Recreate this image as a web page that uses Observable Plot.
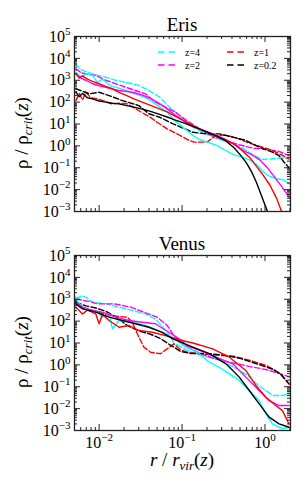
<!DOCTYPE html>
<html><head><meta charset="utf-8">
<script src="https://cdn.jsdelivr.net/npm/d3@7"></script>
<script src="https://cdn.jsdelivr.net/npm/@observablehq/plot@0.6"></script>
<style>
html,body{margin:0;padding:0;background:#fff;}
#wrap{position:relative;width:308px;height:488px;overflow:hidden;font-family:"Liberation Serif","DejaVu Serif",serif;}
#wrap > svg{position:absolute;left:0;}
#wrap svg text{font-family:"Liberation Serif","DejaVu Serif",serif !important;}
</style></head><body><div id="wrap"></div>
<script>
// ---------- data (log10 r/rvir, log10 rho/rho_crit) ----------
const redshifts = ["z=4", "z=2", "z=1", "z=0.2"];
const zColors = ["#00ffff", "#ff00ff", "#ff0000", "#000000"];
const panelNames = ["Eris", "Venus"];
const xTicks = [0.01, 0.1, 1];
const yTicks = [1e-3, 1e-2, 1e-1, 1, 1e1, 1e2, 1e3, 1e4, 1e5];

// Eris, solid
const erisSolidZ4 = [[-2.28,3.37],[-2.22,3.15],[-2.15,3.30],[-2.08,3.22],[-2.02,2.90],[-1.96,3.05],[-1.90,2.85],[-1.84,2.72],[-1.76,2.64],[-1.68,2.53],[-1.60,2.42],[-1.52,2.32],[-1.44,2.20],[-1.36,2.02],[-1.27,1.78],[-1.18,1.54],[-1.10,1.20],[-1.02,0.95],[-0.94,0.70],[-0.86,0.45],[-0.78,0.28],[-0.68,0.15],[-0.58,0.02],[-0.48,-0.20],[-0.38,-0.40],[-0.28,-0.50],[-0.18,-0.65],[-0.10,-0.85],[-0.02,-1.20],[0.06,-1.40],[0.14,-1.50],[0.22,-1.55],[0.30,-1.75]];
const erisSolidZ2 = [[-2.28,3.29],[-2.22,3.10],[-2.16,3.00],[-2.08,2.84],[-2.00,2.75],[-1.92,2.68],[-1.84,2.60],[-1.76,2.53],[-1.68,2.50],[-1.60,2.45],[-1.50,2.35],[-1.40,2.20],[-1.30,2.00],[-1.20,1.75],[-1.10,1.45],[-1.00,1.20],[-0.90,0.95],[-0.80,0.80],[-0.70,0.65],[-0.58,0.48],[-0.46,0.25],[-0.36,0.05],[-0.26,-0.22],[-0.16,-0.40],[-0.06,-0.65],[0.04,-1.05],[0.12,-1.45],[0.20,-1.85],[0.30,-2.40]];
const erisSolidZ1 = [[-2.28,3.29],[-2.24,3.10],[-2.20,3.20],[-2.14,3.05],[-2.08,2.95],[-2.00,2.84],[-1.92,2.72],[-1.84,2.61],[-1.76,2.45],[-1.68,2.32],[-1.58,2.15],[-1.48,2.00],[-1.38,1.85],[-1.28,1.70],[-1.18,1.55],[-1.08,1.35],[-0.98,1.15],[-0.88,0.95],[-0.78,0.75],[-0.68,0.60],[-0.58,0.45],[-0.48,0.30],[-0.38,0.10],[-0.28,-0.20],[-0.18,-0.55],[-0.10,-0.95],[-0.02,-1.35],[0.06,-1.80],[0.14,-2.40],[0.20,-3.00]];
const erisSolidZ02 = [[-2.28,2.45],[-2.24,2.25],[-2.20,2.40],[-2.14,2.20],[-2.08,2.15],[-2.00,2.05],[-1.92,2.00],[-1.84,1.95],[-1.76,1.92],[-1.68,1.85],[-1.58,1.77],[-1.48,1.68],[-1.38,1.58],[-1.28,1.45],[-1.18,1.32],[-1.08,1.18],[-0.98,1.05],[-0.88,0.90],[-0.78,0.75],[-0.68,0.60],[-0.58,0.45],[-0.48,0.25],[-0.38,-0.06],[-0.30,-0.40],[-0.22,-0.80],[-0.16,-1.20],[-0.10,-1.70],[-0.04,-2.30],[0.02,-2.90],[0.04,-3.10]];
// Eris, dashed
const erisDashZ4 = [[-2.28,3.75],[-2.24,3.55],[-2.20,3.45],[-2.12,3.35],[-2.04,3.25],[-1.92,3.14],[-1.80,3.00],[-1.68,2.91],[-1.52,2.76],[-1.40,2.53],[-1.27,2.23],[-1.15,1.77],[-1.03,1.39],[-0.96,1.16],[-0.87,0.85],[-0.75,0.62],[-0.63,0.40],[-0.51,0.25],[-0.39,0.10],[-0.27,-0.10],[-0.15,-0.40],[-0.03,-0.62],[0.09,-0.59],[0.21,-0.55],[0.29,-0.60]];
const erisDashZ2 = [[-2.28,3.52],[-2.22,3.35],[-2.16,3.29],[-2.04,3.22],[-1.92,3.00],[-1.80,2.84],[-1.68,2.68],[-1.56,2.53],[-1.44,2.38],[-1.32,2.00],[-1.20,1.77],[-1.08,1.54],[-0.96,1.20],[-0.86,0.95],[-0.75,0.70],[-0.63,0.45],[-0.45,0.20],[-0.31,0.05],[-0.15,-0.10],[0.01,-0.15],[0.17,-0.25],[0.29,-0.45]];
const erisDashZ1 = [[-2.28,2.07],[-2.24,2.40],[-2.20,2.10],[-2.16,2.45],[-2.10,2.20],[-2.02,2.15],[-1.94,2.05],[-1.85,1.92],[-1.75,1.95],[-1.66,1.92],[-1.56,1.70],[-1.46,1.47],[-1.38,1.30],[-1.30,1.08],[-1.18,0.78],[-1.02,0.47],[-0.94,0.30],[-0.86,0.17],[-0.70,0.17],[-0.60,0.45],[-0.50,0.50],[-0.37,0.40],[-0.17,0.10],[0.03,-0.13],[0.17,-0.35],[0.29,-0.60]];
const erisDashZ02 = [[-2.28,2.61],[-2.20,2.50],[-2.12,2.38],[-2.00,2.45],[-1.88,2.30],[-1.72,2.07],[-1.52,1.84],[-1.40,1.47],[-1.27,1.31],[-1.11,1.01],[-0.98,0.80],[-0.87,0.62],[-0.71,0.55],[-0.55,0.55],[-0.39,0.40],[-0.23,0.25],[-0.07,-0.06],[0.09,-0.29],[0.17,-0.45],[0.23,-0.75],[0.29,-1.00]];

// Venus, solid
const venusSolidZ4 = [[-2.28,3.10],[-2.24,2.79],[-2.16,2.56],[-2.04,2.49],[-1.96,2.18],[-1.88,2.33],[-1.84,1.65],[-1.76,2.03],[-1.60,1.95],[-1.44,1.80],[-1.28,1.57],[-1.12,1.27],[-0.95,0.81],[-0.79,0.51],[-0.67,0.12],[-0.55,-0.11],[-0.43,-0.41],[-0.31,-0.71],[-0.19,-1.17],[-0.07,-1.63],[0.01,-2.24],[0.09,-2.70],[0.21,-2.92],[0.29,-2.85]];
const venusSolidZ2 = [[-2.28,2.86],[-2.20,2.64],[-2.08,2.49],[-1.96,2.41],[-1.80,2.18],[-1.64,2.03],[-1.48,1.95],[-1.32,1.88],[-1.16,1.49],[-1.00,1.11],[-0.95,0.89],[-0.79,0.66],[-0.59,0.35],[-0.39,0.05],[-0.23,-0.56],[-0.07,-1.17],[0.05,-1.63],[0.17,-1.86],[0.29,-1.86]];
const venusSolidZ1 = [[-2.28,2.64],[-2.20,2.33],[-2.14,2.50],[-2.04,2.33],[-2.00,1.88],[-1.96,2.30],[-1.88,2.03],[-1.76,1.72],[-1.64,1.80],[-1.52,1.57],[-1.36,1.49],[-1.20,1.34],[-1.04,1.15],[-0.87,1.00],[-0.63,0.73],[-0.43,0.35],[-0.23,-0.26],[-0.11,-0.94],[0.01,-1.48],[0.13,-1.86],[0.21,-2.09],[0.29,-2.70]];
const venusSolidZ02 = [[-2.28,2.79],[-2.20,2.56],[-2.04,2.41],[-1.88,2.18],[-1.72,2.03],[-1.56,1.88],[-1.40,1.72],[-1.24,1.49],[-1.11,1.19],[-0.87,0.81],[-0.67,0.51],[-0.47,0.05],[-0.31,-0.56],[-0.19,-1.17],[-0.07,-1.78],[0.05,-2.39],[0.17,-2.70],[0.29,-2.85]];
// Venus, dashed
const venusDashZ4 = [[-2.28,3.02],[-2.22,3.15],[-2.16,3.10],[-2.08,2.86],[-1.92,2.79],[-1.76,2.64],[-1.60,2.49],[-1.44,2.33],[-1.32,2.10],[-1.24,1.75],[-1.16,1.40],[-1.10,1.00],[-0.94,0.66],[-0.78,0.43],[-0.58,0.27],[-0.38,-0.10],[-0.20,-0.50],[-0.08,-0.95],[0.02,-1.20],[0.10,-1.40],[0.18,-1.40],[0.29,-1.35]];
const venusDashZ2 = [[-2.28,3.02],[-2.20,2.95],[-2.12,2.90],[-2.02,2.79],[-1.82,2.79],[-1.62,2.64],[-1.46,2.41],[-1.30,2.18],[-1.18,1.80],[-1.10,1.35],[-0.98,0.90],[-0.78,0.51],[-0.58,0.25],[-0.38,0.08],[-0.18,-0.08],[0.02,-0.22],[0.18,-0.40],[0.29,-0.55]];
const venusDashZ1 = [[-2.28,2.79],[-2.20,2.60],[-2.12,2.49],[-2.00,2.40],[-1.86,2.25],[-1.66,2.18],[-1.60,1.95],[-1.54,1.42],[-1.46,0.81],[-1.38,0.58],[-1.26,0.51],[-1.18,0.73],[-1.10,0.96],[-1.02,0.70],[-0.94,0.58],[-0.78,0.50],[-0.62,0.45],[-0.38,0.40],[-0.18,0.20],[0.02,-0.03],[0.18,-0.41],[0.29,-0.87]];
const venusDashZ02 = [[-2.28,2.86],[-2.16,2.70],[-2.04,2.60],[-1.92,2.45],[-1.80,2.20],[-1.66,1.80],[-1.52,1.55],[-1.38,1.40],[-1.26,1.20],[-1.14,0.90],[-1.02,0.62],[-0.90,0.52],[-0.70,0.52],[-0.50,0.45],[-0.30,0.30],[-0.10,0.05],[0.10,-0.20],[0.20,-0.45],[0.29,-0.87]];

const panels = [
  {solid: [erisSolidZ4, erisSolidZ2, erisSolidZ1, erisSolidZ02], dashed: [erisDashZ4, erisDashZ2, erisDashZ1, erisDashZ02]},
  {solid: [venusSolidZ4, venusSolidZ2, venusSolidZ1, venusSolidZ02], dashed: [venusDashZ4, venusDashZ2, venusDashZ1, venusDashZ02]}
];

// ---------- layout ----------
const W = 308, ML = 74, MR = 18, MT = 36, PW = W - ML - MR, PH = 175;
const xDomain = [0.00505, 2.03], yDomain = [1e-3, 1e5];
const ns = "http://www.w3.org/2000/svg";
const FONT = '"Liberation Serif", "DejaVu Serif", serif';

function minors(lo, hi) {
  const out = [];
  for (let e = Math.floor(Math.log10(lo)); e <= Math.ceil(Math.log10(hi)); e++)
    for (let m = 2; m <= 9; m++) { const v = m * 10 ** e; if (v > lo && v < hi) out.push(v); }
  return out;
}
const xMinor = minors(...xDomain), yMinor = minors(...yDomain);

function rows(arr, i) { return arr.map(([lr, lp]) => ({r: 10 ** lr, rho: 10 ** lp, z: redshifts[i]})); }

function supify(svg, label, supSize) {
  svg.querySelectorAll(`g[aria-label="${label}"] text`).forEach(t => {
    const e = t.textContent.replace("-", "\u2212");
    t.textContent = "";
    const a = document.createElementNS(ns, "tspan"); a.textContent = "10"; t.appendChild(a);
    const b = document.createElementNS(ns, "tspan"); b.textContent = e;
    b.setAttribute("dy", "-6.5"); b.setAttribute("font-size", supSize); t.appendChild(b);
  });
}

const wrap = document.getElementById("wrap");
const panelTops = [0, 219];

panels.forEach((p, pi) => {
  const showX = pi === 1;
  const MB = showX ? 58 : 19;
  const height = MT + PH + MB;
  const marks = [];
  p.dashed.forEach((arr, i) => marks.push(Plot.line(rows(arr, i), {x: "r", y: "rho", stroke: zColors[i], strokeWidth: 1.4, strokeDasharray: "5.5,2.4", clip: true})));
  p.solid.forEach((arr, i) => marks.push(Plot.line(rows(arr, i), {x: "r", y: "rho", stroke: zColors[i], strokeWidth: 1.4, clip: true})));
  const tk = {stroke: "#222", strokeWidth: 1};
  // inward ticks on all four sides
  [[yTicks, 6], [yMinor, 3]].forEach(([v, len]) => {
    marks.push(Plot.tickY(v, {y: d => d, ...tk, insetRight: PW - len}));
    marks.push(Plot.tickY(v, {y: d => d, ...tk, insetLeft: PW - len}));
  });
  [[xTicks, 6], [xMinor, 3]].forEach(([v, len]) => {
    marks.push(Plot.tickX(v, {x: d => d, ...tk, insetTop: PH - len}));
    marks.push(Plot.tickX(v, {x: d => d, ...tk, insetBottom: PH - len}));
  });
  marks.push(Plot.frame({stroke: "#222", strokeWidth: 1.3}));
  marks.push(Plot.axisY(yTicks, {tickSize: 0, tickPadding: 4, label: null, fontSize: 16, tickFormat: d => String(Math.round(Math.log10(d)))}));
  if (showX) marks.push(Plot.axisX(xTicks, {tickSize: 0, tickPadding: 6, label: null, fontSize: 16, tickFormat: d => String(Math.round(Math.log10(d)))}));
  const svg = Plot.plot({
    width: W, height, marginLeft: ML, marginRight: MR, marginTop: MT, marginBottom: MB,
    x: {type: "log", domain: xDomain, axis: null},
    y: {type: "log", domain: yDomain, axis: null},
    style: {fontFamily: FONT, color: "#000", background: "transparent", overflow: "visible"},
    marks
  });
  supify(svg, "y-axis tick label", 11);
  supify(svg, "x-axis tick label", 11);
  svg.style.top = panelTops[pi] + "px";
  wrap.appendChild(svg);
});

// ---------- titles, axis labels, legend ----------
const ov = document.createElementNS(ns, "svg");
ov.setAttribute("width", W); ov.setAttribute("height", 488);
ov.style.top = "0px"; ov.style.fontFamily = FONT;
function txt(parent, s, attrs) {
  const t = document.createElementNS(ns, "text");
  for (const k in attrs) t.setAttribute(k, attrs[k]);
  if (s != null) t.textContent = s;
  parent.appendChild(t); return t;
}
function ts(t, s, attrs) {
  const e = document.createElementNS(ns, "tspan");
  for (const k in (attrs || {})) e.setAttribute(k, attrs[k]);
  e.textContent = s; t.appendChild(e); return e;
}
panelNames.forEach((n, i) => {
  const top = panelTops[i];
  txt(ov, n, {x: ML + PW / 2, y: top + 31, "text-anchor": "middle", "font-size": 19});
  const yl = txt(ov, null, {transform: `translate(28,${top + 133}) rotate(-90)`, "text-anchor": "middle", "font-size": 19});
  ts(yl, "\u03c1 / \u03c1");
  ts(yl, "crit", {"font-style": "italic", "font-size": 13, dy: 4});
  ts(yl, "(", {dy: -4});
  ts(yl, "z", {"font-style": "italic"});
  ts(yl, ")");
});
const xl = txt(ov, null, {x: ML + PW / 2, y: 466, "text-anchor": "middle", "font-size": 19});
ts(xl, "r", {"font-style": "italic"});
ts(xl, " / ");
ts(xl, "r", {"font-style": "italic"});
ts(xl, "vir", {"font-style": "italic", "font-size": 13, dy: 4});
ts(xl, "(", {dy: -4});
ts(xl, "z", {"font-style": "italic"});
ts(xl, ")");

// legend (dashed handles)
const legendPos = [[158, 52], [158, 65], [227, 52], [227, 65]];
redshifts.forEach((z, i) => {
  const [lx, ly] = legendPos[i];
  const l = document.createElementNS(ns, "line");
  l.setAttribute("x1", lx); l.setAttribute("x2", lx + 19); l.setAttribute("y1", ly); l.setAttribute("y2", ly);
  l.setAttribute("stroke", zColors[i]); l.setAttribute("stroke-width", 1.5); l.setAttribute("stroke-dasharray", "6.5,4");
  ov.appendChild(l);
  txt(ov, z, {x: lx + 27, y: ly + 3.5, "font-size": 10});
});
wrap.appendChild(ov);
</script></body></html>
